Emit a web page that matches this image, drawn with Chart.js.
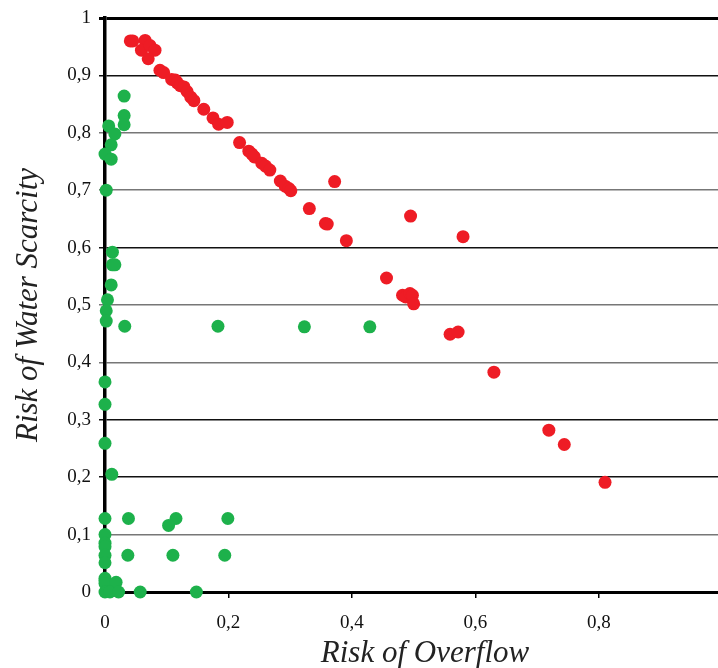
<!DOCTYPE html>
<html><head><meta charset="utf-8">
<script src="https://cdn.jsdelivr.net/npm/chart.js@4/dist/chart.umd.min.js"></script>
<style>html,body{margin:0;padding:0;background:#fff}#wrap{width:718px;height:668px}</style>
</head><body><div id="wrap"><canvas id="c" width="718" height="668"></canvas></div>
<script>
const redX = [0.041,0.045,0.065,0.059,0.073,0.081,0.070,0.089,0.095,0.108,0.114,0.117,0.122,0.128,0.133,0.139,0.144,0.160,0.175,0.184,0.198,0.218,0.233,0.238,0.242,0.254,0.260,0.267,0.284,0.292,0.298,0.301,0.372,0.331,0.357,0.360,0.391,0.495,0.580,0.456,0.482,0.487,0.494,0.498,0.500,0.559,0.572,0.630,0.719,0.744,0.810];
const redY = [0.960,0.960,0.961,0.944,0.952,0.944,0.929,0.909,0.905,0.893,0.892,0.887,0.882,0.880,0.872,0.862,0.856,0.841,0.826,0.815,0.818,0.783,0.768,0.763,0.758,0.747,0.742,0.735,0.716,0.707,0.703,0.699,0.715,0.668,0.642,0.641,0.612,0.655,0.619,0.547,0.517,0.514,0.520,0.517,0.502,0.449,0.453,0.383,0.282,0.257,0.191];
const greenX = [0.031,0.031,0.031,0.006,0.016,0.010,0.000,0.010,0.002,0.012,0.012,0.016,0.010,0.004,0.002,0.002,0.032,0.183,0.323,0.429,0.000,0.000,0.000,0.011,0.000,0.038,0.115,0.103,0.199,0.000,0.000,0.000,0.000,0.000,0.037,0.110,0.194,0.000,0.000,0.000,0.018,0.000,0.008,0.022,0.057,0.148];
const greenY = [0.864,0.830,0.814,0.812,0.798,0.779,0.763,0.754,0.700,0.592,0.570,0.570,0.535,0.509,0.490,0.472,0.463,0.463,0.462,0.462,0.366,0.327,0.259,0.205,0.128,0.128,0.128,0.116,0.128,0.100,0.085,0.079,0.064,0.051,0.064,0.064,0.064,0.024,0.020,0.015,0.017,0.000,0.000,0.000,0.000,0.000];
const xTickLabels = ["0","0,2","0,4","0,6","0,8"];
const yTickLabels = ["0","0,1","0,2","0,3","0,4","0,5","0,6","0,7","0,8","0,9","1"];
const xTitle = "Risk of Overflow";
const yTitle = "Risk of Water Scarcity";

const toPts = (xs, ys) => xs.map((x, i) => ({x: x, y: ys[i]}));
const serif = "'Liberation Serif', 'DejaVu Serif', serif";
const gridColors = ["#000","#777","#111","#111","#777","#777","#111","#777","#777","#111","#000"];

const xTitlePlugin = {
  id: 'xTitlePlugin',
  afterDraw(chart) {
    const ctx = chart.ctx;
    ctx.save();
    ctx.font = "italic 31px " + serif;
    ctx.fillStyle = '#222';
    ctx.textAlign = 'center';
    ctx.textBaseline = 'middle';
    ctx.fillText(xTitle, 425, 654);
    ctx.restore();
  }
};

new Chart(document.getElementById('c'), {
  type: 'scatter',
  data: {
    datasets: [
      {label: 'green', data: toPts(greenX, greenY), backgroundColor: '#1DB14B', borderWidth: 0, pointRadius: 6.5, pointHoverRadius: 6.5, clip: false},
      {label: 'red', data: toPts(redX, redY), backgroundColor: '#EE1C25', borderWidth: 0, pointRadius: 6.5, pointHoverRadius: 6.5, clip: false}
    ]
  },
  plugins: [xTitlePlugin],
  options: {
    responsive: false,
    animation: false,
    events: [],
    layout: {autoPadding: false, padding: {top: 18, right: 0, left: 0, bottom: 0}},
    plugins: {legend: {display: false}, tooltip: {enabled: false}},
    scales: {
      x: {
        type: 'linear', min: 0, max: 0.993,
        afterFit: s => { s.height = 76; s.paddingRight = 0; s.paddingLeft = 0; },
        border: {display: true, color: '#000', width: 3},
        grid: {drawOnChartArea: false, drawTicks: true, tickLength: 6, color: '#000', lineWidth: 1.5},
        ticks: {stepSize: 0.2, includeBounds: false, padding: 14, color: '#111',
          font: {family: serif, size: 19},
          callback: (v) => { const i = Math.round(v / 0.2); return xTickLabels[i]; }},
        title: {display: false}
      },
      y: {
        type: 'linear', min: 0, max: 1,
        afterFit: s => { s.width = 105; s.paddingTop = 0; s.paddingBottom = 0; },
        border: {display: true, color: '#000', width: 3.5},
        grid: {drawOnChartArea: true, drawTicks: true, tickLength: 6,
          color: c => gridColors[c.index] || '#000',
          lineWidth: c => (c.index === 10 ? 3 : 1.5)},
        ticks: {stepSize: 0.1, padding: 8, color: '#111',
          font: {family: serif, size: 19},
          callback: (v) => { const i = Math.round(v * 10); return yTickLabels[i]; }},
        title: {display: true, text: yTitle, color: '#222', padding: {top: 10, bottom: 0},
          font: {family: serif, size: 31, style: 'italic'}}
      }
    }
  }
});
</script></body></html>
